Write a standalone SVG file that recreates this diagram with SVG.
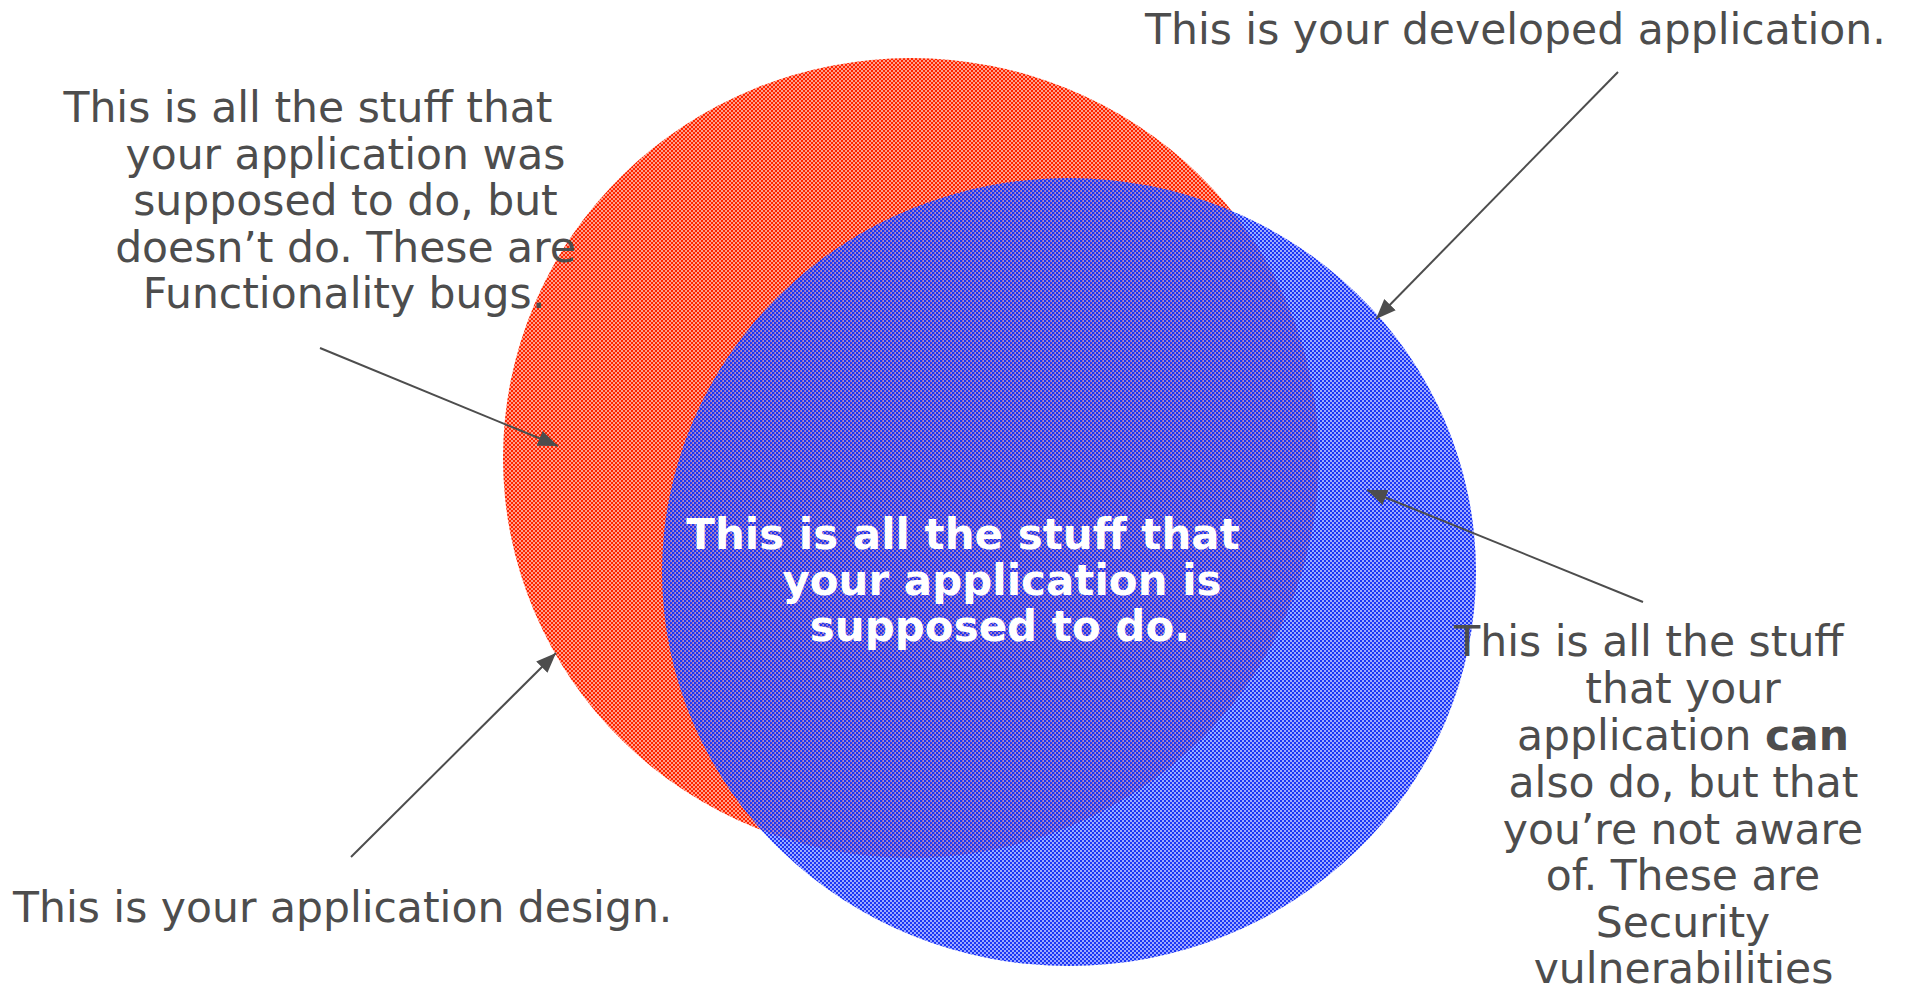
<svg xmlns="http://www.w3.org/2000/svg" width="1905" height="988" viewBox="0 0 1905 988">
  <style>
    .lbl { font-family: "DejaVu Sans", Verdana, sans-serif; font-size: 42.5px; fill: #4d4d4d; }
    .mid { text-anchor: middle; }
    .ctr { font-family: "DejaVu Sans", Verdana, sans-serif; font-size: 42px; font-weight: bold; fill: #ffffff; text-anchor: middle; }
    .conn { stroke: #4d4d4d; stroke-width: 2; fill: none; marker-end: url(#ah); }
  </style>
  <defs>
    <pattern id="redDots" width="4" height="4" patternUnits="userSpaceOnUse" x="1" y="0">
      <rect x="0" y="0" width="4" height="4" fill="#ffa08c"/>
      <rect x="0" y="0" width="2" height="2" fill="#ff2400"/>
      <rect x="2" y="2" width="2" height="2" fill="#ff2400"/>
    </pattern>
    <pattern id="blueDots" width="4" height="4" patternUnits="userSpaceOnUse" x="0" y="0">
      <rect x="2" y="0" width="2" height="2" fill="#7585ff" fill-opacity="0.7"/>
      <rect x="0" y="2" width="2" height="2" fill="#7585ff" fill-opacity="0.7"/>
      <rect x="0" y="0" width="2" height="2" fill="#1c36f6"/>
      <rect x="2" y="2" width="2" height="2" fill="#1c36f6"/>
    </pattern>
    <marker id="ah" markerWidth="22" markerHeight="18" refX="20" refY="8" orient="auto" markerUnits="userSpaceOnUse">
      <path d="M0,0 L20,8 L0,16 z" fill="#4d4d4d"/>
    </marker>
  </defs>
  <rect width="1905" height="988" fill="#ffffff"/>

  <g id="node-design">
    <ellipse cx="911" cy="458" rx="408" ry="400" fill="url(#redDots)"/>
  </g>
  <g id="node-developed">
    <ellipse cx="1069" cy="572" rx="407" ry="394" fill="url(#blueDots)"/>
  </g>

  <g id="connectors">
    <line class="conn" x1="320" y1="348" x2="558" y2="446"/>
    <line class="conn" x1="351" y1="857" x2="556" y2="653"/>
    <line class="conn" x1="1618" y1="72" x2="1376" y2="319"/>
    <line class="conn" x1="1643" y1="602" x2="1367" y2="490"/>
  </g>

  <g id="label-center">
    <text class="ctr" x="963" y="549">This is all the stuff that</text>
    <text class="ctr" x="1002" y="595">your application is</text>
    <text class="ctr" x="1000" y="641">supposed to do.</text>
  </g>

  <g id="label-functionality">
    <text class="lbl mid" x="308" y="122">This is all the stuff that</text>
    <text class="lbl mid" x="345.5" y="168.5">your application was</text>
    <text class="lbl mid" x="345.5" y="215">supposed to do, but</text>
    <text class="lbl mid" x="345.5" y="261.5">doesn’t do. These are</text>
    <text class="lbl mid" x="344" y="308">Functionality bugs.</text>
  </g>

  <g id="label-developed">
    <text class="lbl" x="1145" y="44">This is your developed application.</text>
  </g>

  <g id="label-design">
    <text class="lbl" x="13" y="922">This is your application design.</text>
  </g>

  <g id="label-security">
    <text class="lbl mid" x="1649" y="656">This is all the stuff</text>
    <text class="lbl mid" x="1683" y="703">that your</text>
    <text class="lbl mid" x="1683" y="749.5">application <tspan font-weight="bold">can</tspan></text>
    <text class="lbl mid" x="1683.5" y="796.5">also do, but that</text>
    <text class="lbl mid" x="1683" y="843.5">you’re not aware</text>
    <text class="lbl mid" x="1683" y="890">of. These are</text>
    <text class="lbl mid" x="1683" y="937">Security</text>
    <text class="lbl mid" x="1683.5" y="982.5">vulnerabilities</text>
  </g>
</svg>
